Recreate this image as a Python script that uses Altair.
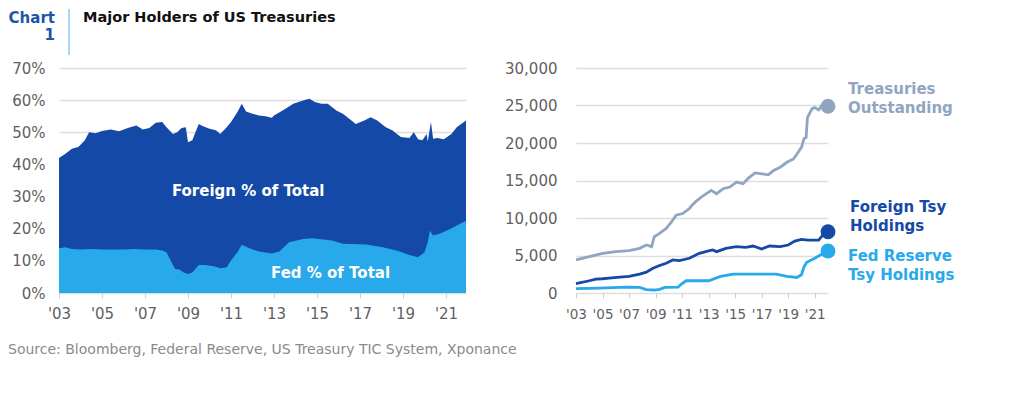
import altair as alt
import pandas as pd

FONT = "DejaVu Sans"
DARK = "#1449A8"
LIGHT = "#27A9EB"
GRAY = "#8FA5C0"
AXIS_TXT = "#5f5f5f"

# ---- Left panel: share of total outstanding (%) ----
total_years = [2003.0, 2003.3, 2003.6, 2003.9, 2004.2, 2004.4, 2004.7, 2005.0, 2005.4, 2005.8,
               2006.2, 2006.6, 2006.9, 2007.2, 2007.5, 2007.8, 2008.0, 2008.3, 2008.5, 2008.7,
               2008.9, 2009.0, 2009.2, 2009.5, 2009.7, 2010.0, 2010.3, 2010.5, 2010.8, 2011.0,
               2011.3, 2011.5, 2011.7, 2012.0, 2012.3, 2012.6, 2012.9, 2013.0, 2013.4, 2013.9,
               2014.35, 2014.65, 2014.9, 2015.2, 2015.5, 2015.9, 2016.2, 2016.5, 2016.8, 2017.2,
               2017.5, 2017.8, 2018.2, 2018.5, 2018.9, 2019.3, 2019.5, 2019.7, 2019.9, 2020.1,
               2020.15, 2020.3, 2020.4, 2020.6, 2020.9, 2021.25, 2021.5, 2021.93]
# foreign + fed share (top of the dark area)
total_pct = [42.0, 43.3, 44.9, 45.4, 47.5, 50.0, 49.7, 50.4, 50.9, 50.3,
             51.3, 52.1, 50.9, 51.3, 53.0, 53.2, 51.6, 49.5, 50.0, 51.3,
             51.6, 46.9, 47.5, 52.6, 51.9, 51.1, 50.6, 49.5, 51.6, 53.2,
             56.3, 58.9, 56.5, 55.8, 55.2, 55.0, 54.5, 55.2, 56.8, 58.9,
             59.9, 60.4, 59.4, 58.9, 58.9, 56.8, 55.8, 54.2, 52.6, 53.7,
             54.7, 53.7, 51.6, 50.6, 48.5, 48.2, 50.0, 47.8, 47.5, 49.5,
             47.1, 53.2, 48.0, 48.2, 47.8, 49.5, 51.6, 53.7]

fed_years = [2003.0, 2003.3, 2003.6, 2004.0, 2004.5, 2005.0, 2005.5, 2006.0, 2006.5, 2007.0,
             2007.5, 2007.8, 2008.0, 2008.2, 2008.4, 2008.6, 2008.8, 2009.0, 2009.2, 2009.5,
             2009.8, 2010.2, 2010.5, 2010.8, 2011.0, 2011.3, 2011.5, 2011.85, 2012.3, 2012.9,
             2013.25, 2013.7, 2014.35, 2014.8, 2015.7, 2016.2, 2017.3, 2018.05, 2018.7, 2019.3,
             2019.7, 2020.0, 2020.15, 2020.25, 2020.4, 2020.7, 2021.2, 2021.5, 2021.93]
fed_pct = [13.9, 14.2, 13.7, 13.5, 13.7, 13.5, 13.5, 13.5, 13.7, 13.5,
           13.5, 13.2, 12.7, 10.0, 7.5, 7.3, 6.4, 5.9, 6.4, 8.7,
           8.7, 8.3, 7.7, 8.0, 10.1, 12.7, 15.0, 13.9, 12.9, 12.3,
           12.9, 15.8, 16.8, 17.0, 16.3, 15.3, 15.1, 14.2, 13.2, 11.8,
           11.1, 12.7, 15.8, 19.4, 17.9, 18.4, 19.9, 21.0, 22.5]

# ---- Right panel: levels ($bn) ----
out_years = [2003.0, 2004.0, 2005.0, 2006.0, 2007.0, 2007.8, 2008.3, 2008.7, 2008.9, 2009.3,
             2009.8, 2010.2, 2010.55, 2011.05, 2011.55, 2011.7, 2012.05, 2012.55, 2013.2, 2013.6,
             2014.1, 2014.6, 2015.1, 2015.6, 2016.0, 2016.5, 2017.0, 2017.5, 2017.9, 2018.4,
             2018.9, 2019.4, 2019.75, 2020.0, 2020.2, 2020.35, 2020.45, 2020.8, 2021.0, 2021.3,
             2021.5, 2022.0]
outstanding = [4413, 4854, 5296, 5516, 5649, 5958, 6400, 6180, 7502, 7944,
               8605, 9488, 10370, 10591, 11253, 11606, 12224, 12930, 13680, 13239,
               13901, 14122, 14784, 14563, 15313, 16019, 15887, 15755, 16328, 16770,
               17432, 17873, 18756, 19418, 20609, 20750, 23389, 24580, 24713, 24404,
               24934, 24900]

for_years = [2003.0, 2004.0, 2004.5, 2005.0, 2005.5, 2006.3, 2007.0, 2007.8, 2008.3, 2008.8,
             2009.3, 2009.8, 2010.3, 2010.8, 2011.55, 2012.3, 2013.0, 2013.3, 2013.6, 2014.3,
             2015.1, 2015.8, 2016.35, 2017.0, 2017.6, 2018.4, 2019.0, 2019.5, 2020.0, 2020.5,
             2021.3, 2021.5, 2022.0]
foreign = [1236, 1633, 1854, 1898, 1986, 2118, 2207, 2516, 2781, 3310,
           3663, 3972, 4413, 4325, 4634, 5296, 5605, 5737, 5516, 5958,
           6180, 6090, 6266, 5869, 6266, 6180, 6400, 6929, 7150, 7061,
           7061, 7502, 8164]

fedh_years = [2003.0, 2004.8, 2006.8, 2007.8, 2008.3, 2008.9, 2009.3, 2009.7, 2010.7, 2010.95,
              2011.3, 2013.0, 2013.9, 2014.85, 2018.1, 2018.9, 2019.65, 2020.0, 2020.2, 2020.4,
              2021.0, 2021.65, 2022.0]
fed_hold = [574, 662, 794, 750, 441, 397, 485, 750, 794, 1192,
            1633, 1633, 2207, 2516, 2516, 2207, 2074, 2427, 3531, 4104,
            4634, 5296, 5605]

tick_years = list(range(2003, 2022, 2))
label_expr = "\"'\" + substring(toString(datum.value), 2, 4)"

df_total = pd.DataFrame({"year": total_years, "pct": total_pct})
df_fed = pd.DataFrame({"year": fed_years, "pct": fed_pct})

xl = alt.X("year:Q", scale=alt.Scale(domain=[2003, 2021.93], nice=False, zero=False),
           axis=alt.Axis(values=tick_years, labelExpr=label_expr, grid=False, domain=False,
                         ticks=True, tickSize=5, tickColor="#cfcfcf", tickWidth=1,
                         labelFontSize=15, labelColor=AXIS_TXT, labelPadding=8, title=None,
                         labelOverlap=False, labelFlush=False, labelFont=FONT))
yl = alt.Y("pct:Q", scale=alt.Scale(domain=[0, 70], nice=False),
           axis=alt.Axis(values=list(range(0, 71, 10)), labelExpr="datum.value + '%'",
                         domain=False, ticks=False, grid=True, gridColor="#dedede",
                         gridWidth=1.5, labelFontSize=15, labelColor=AXIS_TXT,
                         labelOverlap=False, labelFlush=False, labelPadding=14, title=None,
                         labelFont=FONT))

area_total = alt.Chart(df_total).mark_area(color=DARK, opacity=1).encode(x=xl, y=yl)
area_fed = alt.Chart(df_fed).mark_area(color=LIGHT, opacity=1).encode(x=xl, y=yl)

in_labels = pd.DataFrame({"year": [2011.8, 2015.63], "pct": [31.8, 6.2],
                          "txt": ["Foreign % of Total", "Fed % of Total"]})
in_text = alt.Chart(in_labels).mark_text(color="white", fontWeight="bold", fontSize=15,
                                         font=FONT, baseline="middle", align="center").encode(
    x=xl, y=yl, text="txt:N")

# title / source annotations (placed relative to the left panel)
t_chart = alt.Chart(pd.DataFrame({"t": ["Chart"]})).mark_text(
    color="#1D55A8", fontWeight="bold", fontSize=15, font=FONT, align="right",
    baseline="alphabetic").encode(x=alt.value(-4), y=alt.value(-45), text="t:N")
t_one = alt.Chart(pd.DataFrame({"t": ["1"]})).mark_text(
    color="#1D55A8", fontWeight="bold", fontSize=15, font=FONT, align="right",
    baseline="alphabetic").encode(x=alt.value(-4), y=alt.value(-28), text="t:N")
t_rule = alt.Chart(pd.DataFrame({"a": [0]})).mark_rule(color="#A8D8F5", strokeWidth=2).encode(
    x=alt.value(10), y=alt.value(-59), y2=alt.value(-13))
t_title = alt.Chart(pd.DataFrame({"t": ["Major Holders of US Treasuries"]})).mark_text(
    color="#111111", fontWeight="bold", fontSize=14.5, font=FONT, align="left",
    baseline="alphabetic").encode(x=alt.value(24), y=alt.value(-46), text="t:N")
t_source = alt.Chart(pd.DataFrame({"t": ["Source: Bloomberg, Federal Reserve, US Treasury TIC System, Xponance"]})).mark_text(
    color="#8a8a8a", fontSize=14, font=FONT, align="left",
    baseline="alphabetic").encode(x=alt.value(-51), y=alt.value(286), text="t:N")

left = alt.layer(area_total, area_fed, in_text, t_chart, t_one, t_rule, t_title, t_source
                 ).properties(width=407, height=225)

# ---- right panel ----
df_lines = pd.concat([
    pd.DataFrame({"year": out_years, "val": outstanding, "series": "Treasuries Outstanding"}),
    pd.DataFrame({"year": for_years, "val": foreign, "series": "Foreign Tsy Holdings"}),
    pd.DataFrame({"year": fedh_years, "val": fed_hold, "series": "Fed Reserve Tsy Holdings"}),
])
series_order = ["Treasuries Outstanding", "Foreign Tsy Holdings", "Fed Reserve Tsy Holdings"]
color_scale = alt.Scale(domain=series_order, range=[GRAY, DARK, LIGHT])

xr = alt.X("year:Q", scale=alt.Scale(domain=[2003, 2022], nice=False, zero=False),
           axis=alt.Axis(values=tick_years, labelExpr=label_expr, grid=False, domain=False,
                         ticks=True, tickSize=5, tickColor="#cfcfcf", tickWidth=1,
                         labelFontSize=13.5, labelColor=AXIS_TXT, labelPadding=9, title=None,
                         labelOverlap=False, labelFlush=False, labelFont=FONT,
                         labelBound=False))
yr = alt.Y("val:Q", scale=alt.Scale(domain=[0, 30000], nice=False),
           axis=alt.Axis(values=list(range(0, 30001, 5000)),
                         labelExpr="format(datum.value, ',')",
                         domain=False, ticks=False, grid=True, gridColor="#dedede",
                         gridWidth=1.5, labelFontSize=15, labelColor=AXIS_TXT,
                         labelOverlap=False, labelFlush=False, labelPadding=19, title=None,
                         labelFont=FONT))

lines = alt.Chart(df_lines).mark_line(strokeWidth=2.8).encode(
    x=xr, y=yr, color=alt.Color("series:N", scale=color_scale, legend=None),
    detail="series:N")

df_last = pd.DataFrame({"year": [out_years[-1], for_years[-1], fedh_years[-1]],
                        "val": [outstanding[-1], foreign[-1], fed_hold[-1]],
                        "series": series_order})
dots = alt.Chart(df_last).mark_circle(size=220, opacity=1).encode(
    x=xr, y=yr, color=alt.Color("series:N", scale=color_scale, legend=None))

def end_label(txt, color, weight, x, y):
    return alt.Chart(pd.DataFrame({"t": [txt]})).mark_text(
        color=color, fontWeight=weight, fontSize=15, font=FONT, align="left",
        baseline="alphabetic", lineBreak="\n", lineHeight=19).encode(
        x=alt.value(x), y=alt.value(y), text="t:N")

lab1 = end_label("Treasuries\nOutstanding", GRAY, 600, 272, 26)
lab2 = end_label("Foreign Tsy\nHoldings", DARK, "bold", 274, 144)
lab3 = end_label("Fed Reserve\nTsy Holdings", LIGHT, 600, 272, 193)

right = alt.layer(lines, dots, lab1, lab2, lab3).properties(width=252, height=225)

chart = alt.hconcat(left, right, spacing=110, bounds="flush").configure_view(
    stroke=None).properties(padding=0, autosize=alt.AutoSizeParams(type="pad"),
                            background="white")

chart.save("out.html", embed_options={"renderer": "svg", "actions": False})
